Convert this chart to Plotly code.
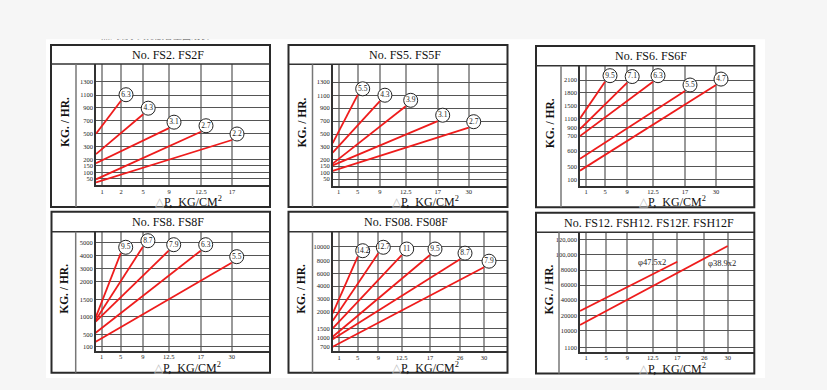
import numpy as np
import plotly.graph_objects as go

FIG_W, FIG_H = 827, 390

# ---------------- data ----------------
fs2_title = "No. FS2. FS2F"
fs2_dp_ticks = [1, 2, 5, 9, 12.5, 17]
fs2_kg_ticks = ["50", "100", "150", "200", "300", "500", "700", "900", "1100", "1300"]
fs2_labels = ["6.3", "4.3", "3.1", "2.7", "2.2"]
fs2_kg_start = [500, 240, 170, 45, 20]
fs2_dp_end = [2, 5, 9, 12.5, 17]
fs2_kg_end = [1010, 800, 585, 530, 400]

fs5_title = "No. FS5. FS5F"
fs5_dp_ticks = [1, 5, 9, 12.5, 17, 30]
fs5_kg_ticks = ["50", "100", "150", "200", "300", "500", "700", "900", "1100", "1300"]
fs5_labels = ["5.5", "4.3", "3.9", "3.1", "2.7"]
fs5_kg_start = [360, 255, 170, 157, 115]
fs5_dp_end = [5, 9, 12.5, 17, 30]
fs5_kg_end = [1110, 1010, 930, 700, 600]

fs6_title = "No. FS6. FS6F"
fs6_dp_ticks = [1, 5, 9, 12.5, 17, 30]
fs6_kg_ticks = ["100", "500", "600", "700", "900", "1100", "1500", "1800", "2100"]
fs6_labels = ["9.5", "7.1", "6.3", "5.5", "4.7"]
fs6_kg_start = [1110, 860, 700, 550, 370]
fs6_dp_end = [5, 9, 12.5, 17, 30]
fs6_kg_end = [2060, 2040, 2060, 1840, 1980]

fs8_title = "No. FS8. FS8F"
fs8_dp_ticks = [1, 5, 9, 12.5, 17, 30]
fs8_kg_ticks = ["100", "500", "1000", "1500", "2000", "3000", "4000", "5000"]
fs8_labels = ["9.5", "8.7", "7.9", "6.3", "5.5"]
fs8_kg_start = [980, 905, 860, 545, 260]
fs8_dp_end = [5, 9, 12.5, 17, 30]
fs8_kg_end = [4160, 4680, 4365, 4365, 3450]

fs08_title = "No. FS08. FS08F"
fs08_dp_ticks = [1, 5, 9, 12.5, 17, 26, 30]
fs08_kg_ticks = ["700", "1000", "1500", "2000", "3000", "4000", "6000", "8000", "10000"]
fs08_labels = ["14.2", "12.7", "11", "9.5", "8.7", "7.9"]
fs08_kg_start = [1960, 1730, 1500, 1050, 945, 700]
fs08_dp_end = [5, 9, 12.5, 17, 26, 30]
fs08_kg_end = [8570, 9060, 8810, 8810, 8220, 6970]

fs12_title = "No. FS12. FSH12. FS12F. FSH12F"
fs12_dp_ticks = [1, 5, 9, 12.5, 17, 26, 30]
fs12_kg_ticks = ["1100", "10000", "20000", "40000", "60000", "80000", "100,000", "120,000"]
fs12_labels = ["\u03c647.5x2", "\u03c638.9x2"]
fs12_kg_start = [25600, 13500]
fs12_dp_end = [17, 30]
fs12_kg_end = [90570, 111070]

y_title = "KG. / HR."
x_title = "<span style='color:#c4c4c4'>\u25b3</span>P,  KG/CM<sup>2</sup>"
top_note = "蒸汽疏水阀排放容量曲线表"

# ---------------- styles / layout geometry (pixels) ----------------
XP_A = [6, 25, 47.2, 73, 105, 136]
YP_A = [6.3, 12.7, 19.3, 25.7, 38.7, 51.3, 64.3, 77.3, 90, 103.3]

panels = [
    dict(title=fs2_title, dp=fs2_dp_ticks, kg=fs2_kg_ticks, lab=fs2_labels, s=fs2_kg_start,
         xe=fs2_dp_end, ye=fs2_kg_end, box=(51, 45, 270, 207), div=76, ax=96, tl=64, ba=185,
         tcx=167.5, xpos=XP_A, ypos=YP_A),
    dict(title=fs5_title, dp=fs5_dp_ticks, kg=fs5_kg_ticks, lab=fs5_labels, s=fs5_kg_start,
         xe=fs5_dp_end, ye=fs5_kg_end, box=(288.5, 45, 507.5, 207), div=312.5, ax=332.7, tl=64.3, ba=185.5,
         tcx=404.7, xpos=XP_A, ypos=YP_A),
    dict(title=fs6_title, dp=fs6_dp_ticks, kg=fs6_kg_ticks, lab=fs6_labels, s=fs6_kg_start,
         xe=fs6_dp_end, ye=fs6_kg_end, box=(536, 46, 754.3, 207.3), div=561, ax=580, tl=65.7, ba=185.7,
         tcx=651, xpos=XP_A, ypos=[6.3, 19.3, 34.7, 49.7, 58.3, 67, 80.3, 93, 105.7]),
    dict(title=fs8_title, dp=fs8_dp_ticks, kg=fs8_kg_ticks, lab=fs8_labels, s=fs8_kg_start,
         xe=fs8_dp_end, ye=fs8_kg_end, box=(51.5, 211.7, 270, 372.7), div=75.7, ax=95.7, tl=231.7, ba=350.7,
         tcx=167.7, xpos=XP_A, ypos=[4, 16.4, 34, 51.4, 69, 82, 95.4, 108]),
    dict(title=fs08_title, dp=fs08_dp_ticks, kg=fs08_kg_ticks, lab=fs08_labels, s=fs08_kg_start,
         xe=fs08_dp_end, ye=fs08_kg_end, box=(288.5, 211.7, 507.5, 372.7), div=312.5, ax=332.7, tl=231.7, ba=351,
         tcx=406.3, xpos=[6.3, 25, 45.6, 69, 97.3, 127.3, 151.3],
         ypos=[4.3, 13.3, 22.7, 39, 52, 65, 77.7, 90.3, 104.3]),
    dict(title=fs12_title, dp=fs12_dp_ticks, kg=fs12_kg_ticks, lab=fs12_labels, s=fs12_kg_start,
         xe=fs12_dp_end, ye=fs12_kg_end, box=(536, 212.7, 754.3, 373.5), div=559, ax=580, tl=232.3, ba=351.7,
         tcx=649, xpos=[6, 26, 47.3, 72.7, 97.3, 124.3, 147.7],
         ypos=[4.4, 21.4, 36.4, 51.7, 66.7, 81.7, 97.4, 112.4], plain=True),
]

RED = "#ee1c1c"
SERIF = "Liberation Serif, Times New Roman, serif"
OUTER_BG = "#f6f6f6"


def px(x):
    return x / FIG_W


def py(y):
    return 1 - y / FIG_H


def tick_text(v):
    return str(int(v)) if float(v).is_integer() else str(v)


fig = go.Figure()
shapes = []
annotations = []

# outer light-grey bands around the white page area
for (x0, y0, x1, y1) in [(0, 0, 827, 39.3), (0, 378, 827, 390), (0, 0, 46, 390), (765, 0, 827, 390)]:
    shapes.append(dict(type="rect", xref="paper", yref="paper", x0=px(x0), x1=px(x1), y0=py(y1), y1=py(y0),
                       line=dict(width=0), fillcolor=OUTER_BG, layer="below"))

for i, p in enumerate(panels, start=1):
    bx0, by0, bx1, by1 = p["box"]
    W = bx1 - p["ax"]
    H = p["ba"] - p["tl"]
    xa = "xaxis" if i == 1 else f"xaxis{i}"
    ya = "yaxis" if i == 1 else f"yaxis{i}"
    xr = "x" if i == 1 else f"x{i}"
    yr = "y" if i == 1 else f"y{i}"
    kg_vals = [float(s.replace(",", "")) for s in p["kg"]]

    fig.layout[xa] = dict(domain=[px(p["ax"]), px(bx1)], range=[0, W], anchor=yr,
                          tickmode="array", tickvals=p["xpos"], ticktext=[tick_text(v) for v in p["dp"]],
                          showgrid=True, gridcolor="#9a9a9a", gridwidth=1.6, zeroline=False,
                          showline=True, linecolor="#333", linewidth=1.5,
                          ticks="", ticklabelstandoff=-1,
                          tickfont=dict(family=SERIF, size=6.5, color="#222"), tickangle=0,
                          fixedrange=True)
    fig.layout[ya] = dict(domain=[py(p["ba"]), py(p["tl"])], range=[0, H], anchor=xr,
                          tickmode="array", tickvals=p["ypos"], ticktext=p["kg"],
                          showgrid=True, gridcolor="#555", gridwidth=1.3, zeroline=False,
                          showline=True, linecolor="#333", linewidth=1.5, ticks="",
                          tickfont=dict(family=SERIF, size=6.5, color="#222"),
                          fixedrange=True)

    def xmap(v):
        return np.interp(v, [0] + list(p["dp"]), [0] + list(p["xpos"]))

    def ymap(v):
        return np.interp(v, [0] + kg_vals, [0] + list(p["ypos"]))

    ex, ey = [], []
    for s, xe, ye in zip(p["s"], p["xe"], p["ye"]):
        x1, y1 = float(xmap(xe)), float(ymap(ye))
        ex.append(x1)
        ey.append(y1)
        fig.add_trace(go.Scatter(x=[0, x1], y=[float(ymap(s)), y1], mode="lines",
                                 line=dict(color=RED, width=1.8), xaxis=xr, yaxis=yr,
                                 showlegend=False, hoverinfo="skip", cliponaxis=False))
    if not p.get("plain"):
        fig.add_trace(go.Scatter(x=[v + 5 for v in ex], y=[v + 6 for v in ey], mode="markers+text",
                                 text=p["lab"], textposition="middle center",
                                 marker=dict(size=14, color="white", line=dict(color="#222", width=1)),
                                 textfont=dict(family=SERIF, size=7.5, color="#222"),
                                 xaxis=xr, yaxis=yr, showlegend=False, hoverinfo="skip", cliponaxis=False))
    else:
        annotations.append(dict(x=ex[0], y=ey[0], xref=xr, yref=yr, text=p["lab"][0], showarrow=False,
                                xanchor="right", yanchor="middle", xshift=-9, yshift=0,
                                font=dict(family=SERIF, size=8.5, color="#222")))
        annotations.append(dict(x=ex[1], y=ey[1], xref=xr, yref=yr, text=p["lab"][1], showarrow=False,
                                xanchor="center", yanchor="top", xshift=-6, yshift=-10,
                                font=dict(family=SERIF, size=8.5, color="#222")))

    # frame pieces
    shapes.append(dict(type="rect", xref="paper", yref="paper", x0=px(bx0), x1=px(bx1), y0=py(by1), y1=py(by0),
                       line=dict(color="#2a2a2a", width=2), fillcolor="rgba(0,0,0,0)", layer="above"))
    shapes.append(dict(type="line", xref="paper", yref="paper", x0=px(bx0), x1=px(bx1), y0=py(p["tl"]), y1=py(p["tl"]),
                       line=dict(color="#333", width=1.5), layer="above"))
    shapes.append(dict(type="line", xref="paper", yref="paper", x0=px(p["div"]), x1=px(p["div"]),
                       y0=py(by1), y1=py(p["tl"]), line=dict(color="#777", width=1.5), layer="above"))

    annotations.append(dict(x=px(p["tcx"]), y=py((by0 + p["tl"]) / 2 + 0.5), xref="paper", yref="paper",
                            text=p["title"], showarrow=False, xanchor="center", yanchor="middle",
                            font=dict(family=SERIF, size=12, color="#111")))
    annotations.append(dict(x=px((bx0 + p["div"]) / 2 + 1), y=py((p["tl"] + p["ba"]) / 2 - 2),
                            xref="paper", yref="paper", text="<b>" + y_title + "</b>", showarrow=False,
                            textangle=-90, xanchor="center", yanchor="middle",
                            font=dict(family=SERIF, size=11.5, color="#111")))
    annotations.append(dict(x=px((p["ax"] + bx1) / 2 + 5), y=py(by1 - 5.5), xref="paper", yref="paper",
                            text=x_title, showarrow=False, xanchor="center", yanchor="middle",
                            font=dict(family=SERIF, size=12, color="#111")))

# partially hidden heading text at the very top
fig.layout["xaxis7"] = dict(domain=[px(80), px(240)], range=[80, 240], visible=False, fixedrange=True, anchor="y7")
fig.layout["yaxis7"] = dict(domain=[py(48), py(28)], range=[48, 28], visible=False, fixedrange=True, anchor="x7")
fig.add_trace(go.Scatter(x=[155], y=[37], mode="text", text=[top_note], textposition="middle center",
                         textfont=dict(family="Noto Sans CJK SC", size=9, color="#555"),
                         xaxis="x7", yaxis="y7", showlegend=False, hoverinfo="skip", cliponaxis=False))
shapes.append(dict(type="rect", xref="paper", yref="paper", x0=px(80), x1=px(240), y0=py(39.3), y1=py(28),
                   line=dict(width=0), fillcolor=OUTER_BG, layer="above"))

fig.update_layout(width=FIG_W, height=FIG_H, autosize=False,
                  margin=dict(l=0, r=0, t=0, b=0, pad=0),
                  paper_bgcolor="white", plot_bgcolor="rgba(0,0,0,0)",
                  shapes=shapes, annotations=annotations, showlegend=False)

fig.write_html("out.html", config={"displayModeBar": False},
               post_script="document.body.style.margin='0';document.body.style.padding='0';")
